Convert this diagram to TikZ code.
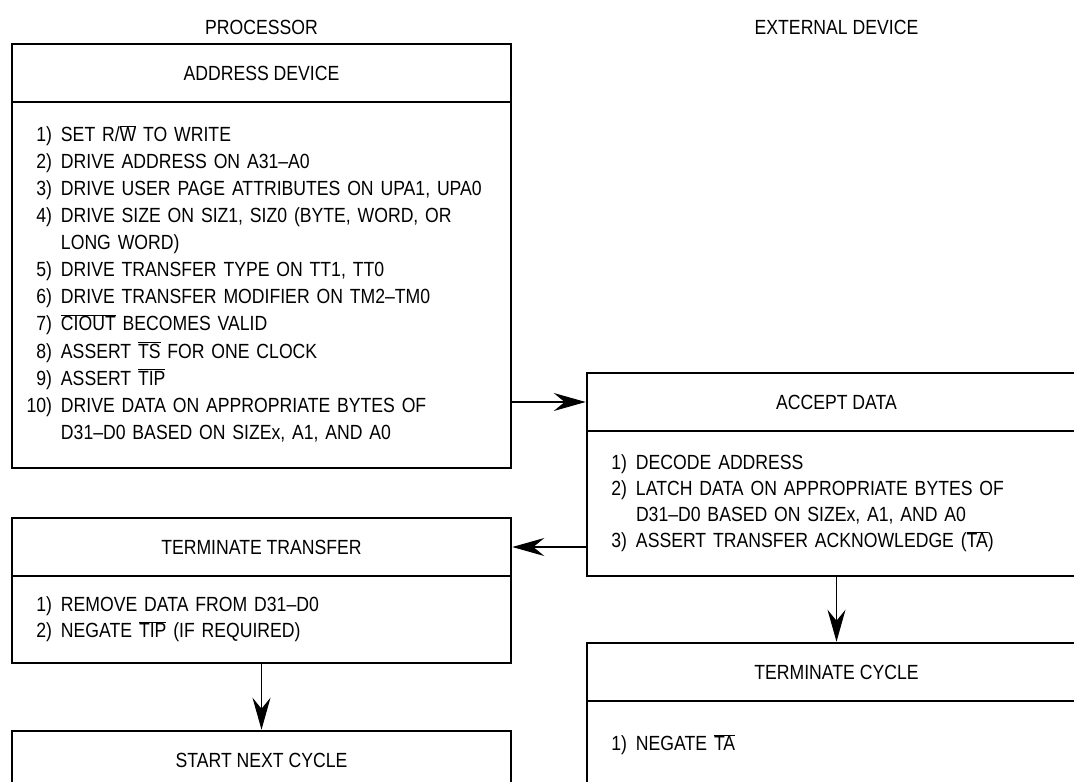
\documentclass[tikz,border=0pt]{standalone}
\usepackage{fontspec}
\setmainfont[FakeStretch=0.86]{Liberation Sans}
\usetikzlibrary{arrows.meta}

\newcommand{\ovl}[1]{$\overline{\mbox{#1}}$}
\newcommand{\num}[1]{\makebox[25pt][r]{#1}}

\begin{document}
\begin{tikzpicture}[x=1pt, y=-1pt, >={Stealth[length=32pt, width=18pt, inset=11pt]},
		font=\fontsize{20.5pt}{26pt}\selectfont,
		hdr/.style={draw, line width=2.6pt, minimum width=499pt, minimum height=58pt, inner sep=0pt},
		bodybox/.style={draw, line width=2.6pt, text width=469pt, inner xsep=15pt, inner ysep=0pt, align=left},
		flow/.style={->, line width=1.1pt}]
		\useasboundingbox (0,0) rectangle (1074,782);
		\clip (0,0) rectangle (1074,782);
		\node (proc) at (261.5,27) {PROCESSOR};
		\node (ext) at (836.5,27) {EXTERNAL DEVICE};
		\node[hdr] (addrh) at (261.5,73) {ADDRESS DEVICE};
		\node[bodybox, minimum height=366pt] (addrb) at (261.5,285) {\renewcommand{\arraystretch}{1.04}%
			\begin{tabular}{@{}l@{\hspace{9pt}}l@{}}
				\num{1)} & SET R/\ovl{W} TO WRITE\\
				\num{2)} & DRIVE ADDRESS ON A31–A0\\
				\num{3)} & DRIVE USER PAGE ATTRIBUTES ON UPA1, UPA0\\
				\num{4)} & DRIVE SIZE ON SIZ1, SIZ0 (BYTE, WORD, OR\\
				& LONG WORD)\\
				\num{5)} & DRIVE TRANSFER TYPE ON TT1, TT0\\
				\num{6)} & DRIVE TRANSFER MODIFIER ON TM2–TM0\\
				\num{7)} & \ovl{CIOUT} BECOMES VALID\\
				\num{8)} & ASSERT \ovl{TS} FOR ONE CLOCK\\
				\num{9)} & ASSERT \ovl{TIP}\\
				\num{10)} & DRIVE DATA ON APPROPRIATE BYTES OF\\
				& D31–D0 BASED ON SIZEx, A1, AND A0
			\end{tabular}};
		\node[hdr] (accepth) at (836.5,402) {ACCEPT DATA};
		\node[bodybox, minimum height=145pt] (acceptb) at (836.5,503.5) {%
			\begin{tabular}{@{}l@{\hspace{9pt}}l@{}}
				\num{1)} & DECODE ADDRESS\\
				\num{2)} & LATCH DATA ON APPROPRIATE BYTES OF\\
				& D31–D0 BASED ON SIZEx, A1, AND A0\\
				\num{3)} & ASSERT TRANSFER ACKNOWLEDGE (\ovl{TA})
			\end{tabular}};
		\node[hdr] (termth) at (261.5,547) {TERMINATE TRANSFER};
		\node[bodybox, minimum height=87pt] (termtb) at (261.5,619.5) {%
			\begin{tabular}{@{}l@{\hspace{9pt}}l@{}}
				\num{1)} & REMOVE DATA FROM D31–D0\\
				\num{2)} & NEGATE \ovl{TIP} (IF REQUIRED)
			\end{tabular}};
		\node[hdr] (termch) at (836.5,672) {TERMINATE CYCLE};
		\node[bodybox, minimum height=88pt] (termcb) at (836.5,745) {%
			\begin{tabular}{@{}l@{\hspace{9pt}}l@{}}
				\num{1)} & NEGATE \ovl{TA}
			\end{tabular}};
		\node[hdr] (nexth) at (261.5,760) {START NEXT CYCLE};
		\draw[flow] (addrb.east |- accepth.west) -- (accepth.west);
		\draw[flow] (acceptb.west |- termth.east) -- (termth.east);
		\draw[flow] (acceptb.south) -- (termch.north);
		\draw[flow] (termtb.south) -- (nexth.north);
	\end{tikzpicture}
\end{document}
